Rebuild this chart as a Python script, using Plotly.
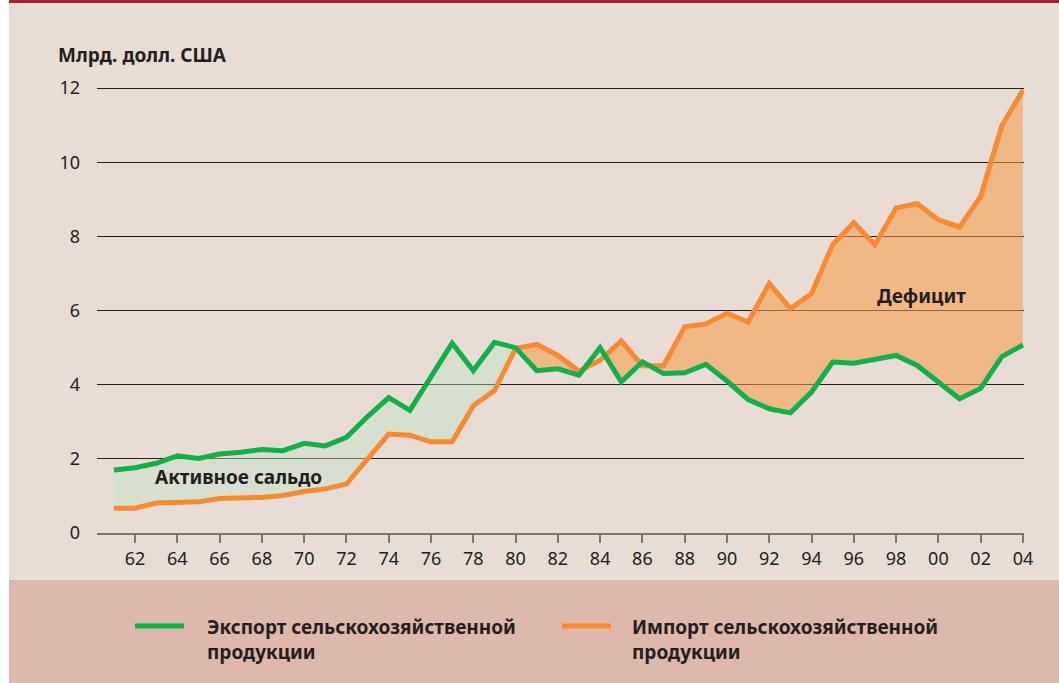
import numpy as np
import plotly.graph_objects as go

years = list(range(1961, 2005))
export_vals = [1.70, 1.76, 1.88, 2.08, 2.01, 2.13, 2.18, 2.25, 2.22, 2.42, 2.35, 2.58,
               3.14, 3.65, 3.31, 4.20, 5.12, 4.38, 5.14, 5.00, 4.38, 4.43, 4.26, 5.00,
               4.08, 4.62, 4.30, 4.32, 4.55, 4.10, 3.60, 3.35, 3.24, 3.80, 4.61, 4.58,
               4.70, 4.79, 4.52, 4.08, 3.62, 3.90, 4.76, 5.07]
import_vals = [0.67, 0.67, 0.81, 0.83, 0.84, 0.93, 0.93, 0.96, 1.01, 1.12, 1.19, 1.32,
               2.00, 2.67, 2.64, 2.46, 2.46, 3.43, 3.84, 4.98, 5.09, 4.79, 4.36, 4.66,
               5.18, 4.51, 4.51, 5.56, 5.64, 5.93, 5.69, 6.73, 6.05, 6.46, 7.78, 8.37,
               7.77, 8.77, 8.88, 8.45, 8.25, 9.08, 10.98, 11.95]
tick_years = list(range(1962, 2005, 2))
tick_text = [str(y)[2:] for y in tick_years]
y_ticks = [0, 2, 4, 6, 8, 10, 12]

name_export = "Экспорт сельскохозяйственной<br>продукции"
name_import = "Импорт сельскохозяйственной<br>продукции"
label_surplus = "Активное сальдо"
label_deficit = "Дефицит"
y_title = "Млрд. долл. США"

GREEN = "#12AF4B"
ORANGE = "#F78B33"
BG = "#E9DCD5"
BAND = "#DDB8AB"
TXT = "#231F20"
FONT = "Noto Sans, Open Sans, DejaVu Sans, sans-serif"

# densify with crossing points so fills between curves are exact
xs, es, ims = [], [], []
for k in range(len(years)):
    xs.append(years[k]); es.append(export_vals[k]); ims.append(import_vals[k])
    if k < len(years) - 1:
        d0 = export_vals[k] - import_vals[k]
        d1 = export_vals[k + 1] - import_vals[k + 1]
        if d0 * d1 < 0:
            t = d0 / (d0 - d1)
            v = export_vals[k] + t * (export_vals[k + 1] - export_vals[k])
            xs.append(years[k] + t); es.append(v); ims.append(v)
xs = np.array(xs); es = np.array(es); ims = np.array(ims)
upper = np.maximum(es, ims)

fig = go.Figure()
fig.add_trace(go.Scatter(x=xs, y=ims, mode="lines", line=dict(width=0), hoverinfo="skip", showlegend=False))
fig.add_trace(go.Scatter(x=xs, y=upper, mode="lines", line=dict(width=0), fill="tonexty",
                         fillcolor="rgba(190,228,198,0.42)", hoverinfo="skip", showlegend=False))
fig.add_trace(go.Scatter(x=xs, y=es, mode="lines", line=dict(width=0), hoverinfo="skip", showlegend=False))
fig.add_trace(go.Scatter(x=xs, y=upper, mode="lines", line=dict(width=0), fill="tonexty",
                         fillcolor="rgba(246,156,68,0.56)", hoverinfo="skip", showlegend=False))
fig.add_trace(go.Scatter(x=years, y=import_vals, mode="lines", name=name_import,
                         line=dict(color=ORANGE, width=5), showlegend=False))
fig.add_trace(go.Scatter(x=years, y=export_vals, mode="lines", name=name_export,
                         line=dict(color=GREEN, width=5), showlegend=False))

W, H = 1059, 683
L, R, T, B = 97, 1024, 77, 533

def px(x):
    return (x - L) / (R - L)

def py(y):
    return (B - y) / (B - T)

shapes = [
    dict(type="rect", xref="paper", yref="paper", x0=px(9), x1=px(W + 5), y0=py(580), y1=py(3),
         fillcolor=BG, line=dict(width=0), layer="below"),
    dict(type="rect", xref="paper", yref="paper", x0=px(9), x1=px(W + 5), y0=py(H + 5), y1=py(580),
         fillcolor=BAND, line=dict(width=0), layer="below"),
    dict(type="rect", xref="paper", yref="paper", x0=px(9), x1=px(W + 5), y0=py(3), y1=py(-2),
         fillcolor="#A1252C", line=dict(width=0), layer="below"),
    dict(type="line", xref="paper", yref="paper", x0=px(135), x1=px(184), y0=py(626), y1=py(626),
         line=dict(color=GREEN, width=5)),
    dict(type="line", xref="paper", yref="paper", x0=px(562), x1=px(611), y0=py(626), y1=py(626),
         line=dict(color=ORANGE, width=5)),
]

annotations = [
    dict(text="<b>" + y_title + "</b>", xref="paper", yref="paper", x=px(56), y=py(55),
         xanchor="left", yanchor="middle", showarrow=False, font=dict(size=19, color=TXT, family=FONT)),
    dict(text="<b>" + label_surplus + "</b>", x=1966.9, y=(533 - 477) / 37.08, xref="x", yref="y",
         xanchor="center", yanchor="middle", showarrow=False, font=dict(size=19, color=TXT, family=FONT)),
    dict(text="<b>" + label_deficit + "</b>", x=1999.2, y=(533 - 296) / 37.08, xref="x", yref="y",
         xanchor="center", yanchor="middle", showarrow=False, font=dict(size=19, color=TXT, family=FONT)),
    dict(text="<b>" + name_export + "</b>", xref="paper", yref="paper", x=px(205), y=py(639),
         xanchor="left", yanchor="middle", align="left", showarrow=False,
         font=dict(size=19, color=TXT, family=FONT)),
    dict(text="<b>" + name_import + "</b>", xref="paper", yref="paper", x=px(630), y=py(639),
         xanchor="left", yanchor="middle", align="left", showarrow=False,
         font=dict(size=19, color=TXT, family=FONT)),
]

fig.update_layout(
    width=W, height=H,
    margin=dict(l=L, r=W - R, t=T, b=H - B, pad=0),
    paper_bgcolor="white", plot_bgcolor="rgba(0,0,0,0)",
    shapes=shapes, annotations=annotations,
    showlegend=False,
    font=dict(family=FONT, color=TXT, size=18),
    xaxis=dict(range=[1960.2, 2004.05], tickvals=tick_years, ticktext=tick_text,
               showgrid=False, zeroline=False, showline=True, linecolor="#7d7573", linewidth=2,
               ticks="outside", ticklen=8, tickwidth=1.5, tickcolor="#7d7573",
               tickfont=dict(size=18, color=TXT, family=FONT), fixedrange=True),
    yaxis=dict(range=[0, 12.3], tickvals=y_ticks, showgrid=True, gridcolor="#231F20", gridwidth=1,
               zeroline=False, showline=False, ticks="", ticklabelstandoff=16,
               tickfont=dict(size=18, color=TXT, family=FONT), fixedrange=True),
)

fig.write_html("out.html", config={"displayModeBar": False},
               post_script="document.body.style.margin='0px';document.body.style.padding='0px';")
